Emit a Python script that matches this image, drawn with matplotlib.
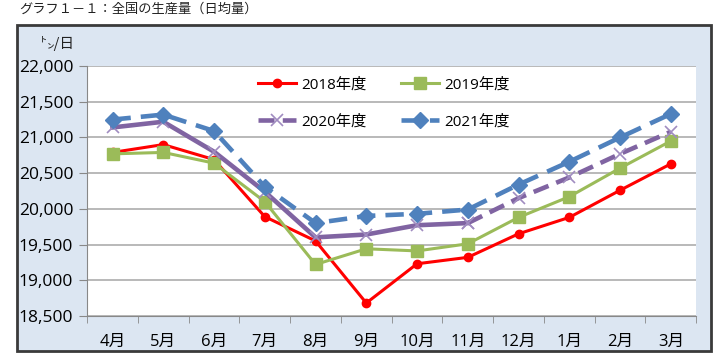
import matplotlib
matplotlib.use("Agg")
import matplotlib.pyplot as plt
import matplotlib.ticker as ticker
from matplotlib.patches import Rectangle
from matplotlib.lines import Line2D

plt.rcParams["font.family"] = ["Open Sans", "Noto Sans CJK JP", "DejaVu Sans"]
JP = ["Noto Sans CJK JP", "DejaVu Sans"]

MONTHS = ["4月", "5月", "6月", "7月", "8月", "9月", "10月", "11月", "12月", "1月", "2月", "3月"]

FY2018 = [20790, 20900, 20690, 19890, 19550, 18680, 19230, 19320, 19650, 19880, 20260, 20630]
FY2019 = [20770, 20790, 20640, 20100, 19220, 19440, 19410, 19510, 19880, 20170, 20570, 20950]
FY2020 = [21140, 21220, 20800, 20240, 19600, 19640, 19770, 19800, 20150, 20440, 20770, 21080]
FY2021 = [21250, 21320, 21090, 20310, 19800, 19900, 19930, 19990, 20340, 20660, 21000, 21330]

YTICKS = [18500, 19000, 19500, 20000, 20500, 21000, 21500, 22000]

RED = "#ff0000"
GREEN = "#9bbb59"
PURPLE = "#8064a2"
BLUE = "#4f81bd"

fig = plt.figure(figsize=(7.2, 3.61), dpi=100)
fig.patch.set_facecolor("white")

# outer chart frame (behind the axes)
frame = Rectangle((0.024, 0.029), 0.964, 0.901, transform=fig.transFigure,
                  facecolor="#dce6f2", edgecolor="#3a3a3a", linewidth=2.0, zorder=-10)
fig.patches.append(frame)

fig.text(0.027, 0.975, "グラフ１－１：全国の生産量（日均量）", fontsize=9.5,
         ha="left", va="center", color="#222222", family=JP)
fig.text(0.055, 0.88, "㌧/日", fontsize=10.5, ha="left", va="center", color="#222222",
         family=JP)

ax = fig.add_axes([0.121, 0.125, 0.846, 0.692], zorder=5)
ax.set_facecolor("white")
x = list(range(len(MONTHS)))

ax.plot(x, FY2018, color=RED, lw=2.2, marker="o", ms=6, zorder=3)
ax.plot(x, FY2019, color=GREEN, lw=2.2, marker="s", ms=9, zorder=3)
ax.plot(x[:8], FY2020[:8], color=PURPLE, lw=3.3, marker="x", ms=8, mew=1.2,
        mec="#a08cc0", zorder=4)
ax.plot(x[7:], FY2020[7:], color=PURPLE, lw=3.3, ls=(0, (3.5, 1.8)), marker="x", ms=8,
        mew=1.2, mec="#a08cc0", zorder=4)
ax.plot(x, FY2021, color=BLUE, lw=3.3, ls=(0, (4, 2.2)), marker="D", ms=8, zorder=5)

ax.set_xlim(-0.5, 11.5)
ax.set_ylim(18500, 22000)
ax.set_yticks(YTICKS)
ax.yaxis.set_major_formatter(ticker.FuncFormatter(lambda v, p: f"{int(v):,}"))
ax.set_xticks(x)
ax.set_xticklabels(MONTHS)
ax.set_xticks([i - 0.5 for i in range(13)], minor=True)
ax.tick_params(axis="x", which="major", length=0, pad=13, labelsize=12)
ax.tick_params(axis="x", which="minor", length=5, color="#888888", direction="out")
ax.tick_params(axis="y", length=6, color="#888888", labelsize=12.5, pad=4)
ax.grid(axis="y", color="#a6a6a6", lw=1.1)
ax.set_axisbelow(True)
for s in ["top", "right"]:
    ax.spines[s].set_visible(False)
for s in ["left", "bottom"]:
    ax.spines[s].set_color("#888888")

handles = [
    Line2D([], [], color=RED, lw=2.2, marker="o", ms=6),
    Line2D([], [], color=PURPLE, lw=3.3, ls=(0, (3.5, 1.8)), marker="x", ms=8, mew=1.2,
           mec="#a08cc0"),
    Line2D([], [], color=GREEN, lw=2.2, marker="s", ms=9),
    Line2D([], [], color=BLUE, lw=3.3, ls=(0, (4, 2.2)), marker="D", ms=8),
]
labels = ["2018年度", "2020年度", "2019年度", "2021年度"]
ax.legend(handles, labels, ncol=2, loc="upper left", bbox_to_anchor=(0.258, 1.01),
          frameon=False, fontsize=11, handlelength=2.5, handletextpad=0.3,
          columnspacing=2.3, labelspacing=1.45)

fig.savefig("out.png", dpi=100, facecolor=fig.get_facecolor())
